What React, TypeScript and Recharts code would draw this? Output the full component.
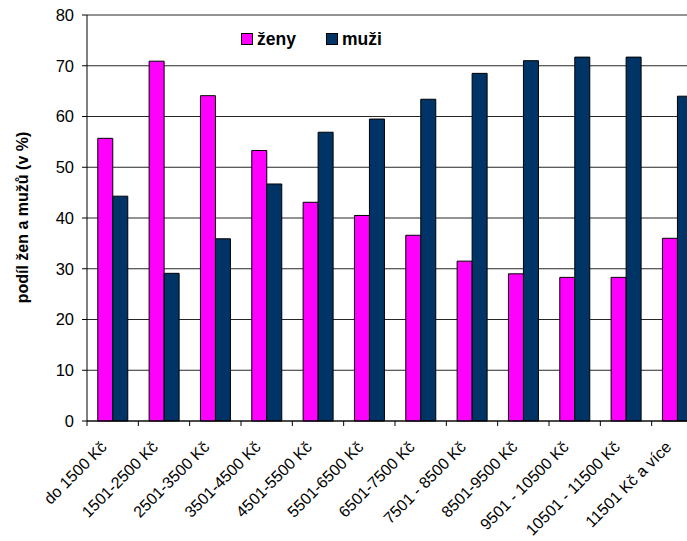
import React from 'react';
import { BarChart, Bar, XAxis, YAxis, CartesianGrid } from 'recharts';

const categories = [
  'do 1500 Kč',
  '1501-2500 Kč',
  '2501-3500 Kč',
  '3501-4500 Kč',
  '4501-5500 Kč',
  '5501-6500 Kč',
  '6501-7500 Kč',
  '7501 - 8500 Kč',
  '8501-9500 Kč',
  '9501 - 10500 Kč',
  '10501 - 11500 Kč',
  '11501 Kč a více',
];
const zeny = [55.7, 70.9, 64.1, 53.3, 43.1, 40.5, 36.6, 31.5, 29.0, 28.3, 28.3, 36.0];
const muzi = [44.3, 29.1, 35.9, 46.7, 56.9, 59.5, 63.4, 68.5, 71.0, 71.7, 71.7, 64.0];
const yTicks = [0, 10, 20, 30, 40, 50, 60, 70, 80];
const seriesNames = { zeny: 'ženy', muzi: 'muži' };
const yLabel = 'podíl žen a mužů (v %)';

const data = categories.map((c, i) => ({ name: c, zeny: zeny[i], muzi: muzi[i] }));

const FONT = '"Liberation Sans", Arial, sans-serif';

const XTick = (props: any) => {
  const { x, y, payload } = props;
  const half = payload && payload.offset ? payload.offset : 25.67;
  return (
    <g>
      <line x1={x - half} y1={y - 2} x2={x - half} y2={y + 3} stroke="#000" />
      <g transform={`translate(${x - 5},${y + 25})`}>
        <text transform="rotate(-45)" textAnchor="end" fontSize={16} fontFamily={FONT} fill="#000">
          {payload.value}
        </text>
      </g>
    </g>
  );
};

const YLabel = () => (
  <text
    x={28}
    y={217.5}
    transform="rotate(-90, 28, 217.5)"
    textAnchor="middle"
    fontSize={16}
    fontWeight="bold"
    fontFamily={FONT}
    fill="#000"
  >
    {yLabel}
  </text>
);

export default function App() {
  return (
    <div style={{ position: 'absolute', left: 0, top: 0, width: 687, height: 541, overflow: 'hidden', background: '#fff' }}>
      <BarChart
        width={720}
        height={541}
        data={data}
        margin={{ top: 15, right: 17, left: 0, bottom: 10 }}
        barCategoryGap="21%"
        barGap={0}
      >
        <CartesianGrid vertical={false} stroke="#000" strokeOpacity={0.85} />
        <XAxis
          dataKey="name"
          height={110}
          interval={0}
          tickLine={false}
          tickSize={0}
          tickMargin={2}
          axisLine={{ stroke: '#000' }}
          tick={<XTick />}
        />
        <YAxis
          width={87}
          domain={[0, 80]}
          ticks={yTicks}
          tickSize={5}
          tickMargin={8}
          axisLine={{ stroke: '#000' }}
          tickLine={{ stroke: '#000' }}
          tick={{ fontSize: 16.5, fontFamily: FONT, fill: '#000' }}
          label={<YLabel />}
        />
        <Bar dataKey="zeny" name={seriesNames.zeny} fill="#FF00FF" stroke="#000" strokeWidth={1} isAnimationActive={false} />
        <Bar dataKey="muzi" name={seriesNames.muzi} fill="#003366" stroke="#000" strokeWidth={1} isAnimationActive={false} />
      </BarChart>
      <div
        style={{
          position: 'absolute',
          left: 241,
          top: 29,
          display: 'flex',
          alignItems: 'center',
          fontFamily: FONT,
          fontWeight: 'bold',
          fontSize: 17.5,
          color: '#000',
          lineHeight: '20px',
        }}
      >
        <span style={{ display: 'inline-block', width: 10, height: 10, background: '#FF00FF', border: '1px solid #000', marginRight: 4 }} />
        <span>{seriesNames.zeny}</span>
        <span style={{ display: 'inline-block', width: 10, height: 10, background: '#003366', border: '1px solid #000', marginLeft: 30, marginRight: 4 }} />
        <span>{seriesNames.muzi}</span>
      </div>
    </div>
  );
}
